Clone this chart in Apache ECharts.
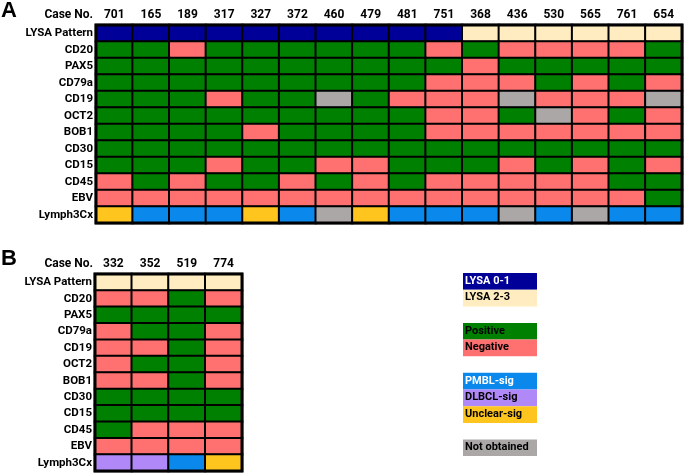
<!DOCTYPE html>
<html>
<head>
<meta charset="utf-8">
<script src="https://cdn.jsdelivr.net/npm/echarts@6/dist/echarts.min.js"></script>
<style>
  html, body { margin: 0; padding: 0; background: #fff; }
  #chart { width: 685px; height: 474px; }
</style>
</head>
<body>
<div id="chart"></div>
<script>
// codes: 0 LYSA 0-1, 1 LYSA 2-3, 2 Positive, 3 Negative, 4 PMBL-sig, 5 DLBCL-sig, 6 Unclear-sig, 7 Not obtained
const markers = ['LYSA Pattern', 'CD20', 'PAX5', 'CD79a', 'CD19', 'OCT2', 'BOB1', 'CD30', 'CD15', 'CD45', 'EBV', 'Lymph3Cx'];

const casesA = ['701', '165', '189', '317', '327', '372', '460', '479', '481', '751', '368', '436', '530', '565', '761', '654'];
const lysaA     = [0, 0, 0, 0, 0, 0, 0, 0, 0, 0, 1, 1, 1, 1, 1, 1];
const cd20A     = [2, 2, 3, 2, 2, 2, 2, 2, 2, 3, 2, 3, 3, 3, 3, 2];
const pax5A     = [2, 2, 2, 2, 2, 2, 2, 2, 2, 2, 3, 2, 2, 2, 2, 2];
const cd79aA    = [2, 2, 2, 2, 2, 2, 2, 2, 2, 3, 3, 3, 2, 3, 2, 3];
const cd19A     = [2, 2, 2, 3, 2, 2, 7, 2, 3, 3, 3, 7, 3, 3, 3, 7];
const oct2A     = [2, 2, 2, 2, 2, 2, 2, 2, 2, 3, 3, 2, 7, 3, 2, 3];
const bob1A     = [2, 2, 2, 2, 3, 2, 2, 2, 2, 3, 3, 3, 3, 3, 3, 3];
const cd30A     = [2, 2, 2, 2, 2, 2, 2, 2, 2, 2, 2, 2, 2, 2, 2, 2];
const cd15A     = [2, 2, 2, 3, 2, 2, 3, 3, 2, 2, 2, 3, 2, 3, 2, 3];
const cd45A     = [3, 2, 3, 2, 2, 3, 2, 3, 2, 3, 3, 3, 3, 3, 2, 2];
const ebvA      = [3, 3, 3, 3, 3, 3, 3, 3, 3, 3, 3, 3, 3, 3, 3, 2];
const lymph3cxA = [6, 4, 4, 4, 6, 4, 7, 6, 4, 4, 4, 7, 4, 7, 4, 4];

const casesB = ['332', '352', '519', '774'];
const lysaB     = [1, 1, 1, 1];
const cd20B     = [3, 3, 2, 3];
const pax5B     = [2, 2, 2, 2];
const cd79aB    = [3, 2, 2, 3];
const cd19B     = [3, 3, 2, 3];
const oct2B     = [3, 2, 2, 3];
const bob1B     = [3, 3, 2, 3];
const cd30B     = [2, 2, 2, 2];
const cd15B     = [2, 2, 2, 2];
const cd45B     = [2, 3, 3, 3];
const ebvB      = [3, 3, 3, 3];
const lymph3cxB = [5, 5, 4, 6];

const legendGroups = [
  [['LYSA 0-1', 0], ['LYSA 2-3', 1]],
  [['Positive', 2], ['Negative', 3]],
  [['PMBL-sig', 4], ['DLBCL-sig', 5], ['Unclear-sig', 6]],
  [['Not obtained', 7]]
];

const colors = ['#000099', '#FFEDC1', '#008000', '#FF7171', '#0A88EC', '#B188F7', '#FFC51F', '#ABA7A7'];
const textColors = ['#fff', '#000', '#000', '#000', '#fff', '#000', '#000', '#000'];

const rowsA = [lysaA, cd20A, pax5A, cd79aA, cd19A, oct2A, bob1A, cd30A, cd15A, cd45A, ebvA, lymph3cxA];
const rowsB = [lysaB, cd20B, pax5B, cd79aB, cd19B, oct2B, bob1B, cd30B, cd15B, cd45B, ebvB, lymph3cxB];

function toCells(rows) {
  const out = [];
  rows.forEach((row, r) => row.forEach((v, c) => out.push([c, r, v])));
  return out;
}

const FONT = 'Roboto, "Open Sans", sans-serif';

const chart = echarts.init(document.getElementById('chart'));

function xAx(idx, cases) {
  return {
    type: 'category', gridIndex: idx, data: cases, position: 'top',
    axisLine: { show: false }, axisTick: { show: false }, splitLine: { show: false },
    axisLabel: { color: '#000', fontWeight: 'bold', fontSize: 12, fontFamily: FONT, margin: 4 }
  };
}
function yAx(idx) {
  return {
    type: 'category', gridIndex: idx, data: markers, inverse: true,
    axisLine: { show: false }, axisTick: { show: false }, splitLine: { show: false },
    axisLabel: { color: '#000', fontWeight: 'bold', fontSize: 11.5, fontFamily: FONT, margin: 3 }
  };
}

const pieces = colors.map((c, i) => ({ value: i, color: c }));

// legend boxes
const legendGraphics = [];
let ly = 273;
legendGroups.forEach((g, gi) => {
  g.forEach(([label, code]) => {
    legendGraphics.push({
      type: 'rect', left: 463, top: ly,
      shape: { width: 74, height: 16.7 },
      style: { fill: colors[code] }
    });
    legendGraphics.push({
      type: 'text', left: 465, top: ly + 2.5,
      style: { text: label, fill: textColors[code], font: 'bold 11px ' + FONT }
    });
    ly += 16.7;
  });
  ly += [16.5, 16.5, 16.5, 0][gi];
});

chart.setOption({
  animation: false,
  backgroundColor: '#fff',
  grid: [
    { left: 96, top: 25, width: 586, height: 198, show: true, borderColor: '#000', borderWidth: 3, backgroundColor: 'transparent', z: 5 },
    { left: 95, top: 274, width: 147, height: 197, show: true, borderColor: '#000', borderWidth: 3, backgroundColor: 'transparent', z: 5 }
  ],
  xAxis: [xAx(0, casesA), xAx(1, casesB)],
  yAxis: [yAx(0), yAx(1)],
  visualMap: {
    type: 'piecewise', show: false, dimension: 2, pieces: pieces, seriesIndex: [0, 1]
  },
  series: [
    {
      type: 'heatmap', xAxisIndex: 0, yAxisIndex: 0, data: toCells(rowsA),
      itemStyle: { borderColor: '#000', borderWidth: 2 }, emphasis: { disabled: true }
    },
    {
      type: 'heatmap', xAxisIndex: 1, yAxisIndex: 1, data: toCells(rowsB),
      itemStyle: { borderColor: '#000', borderWidth: 2 }, emphasis: { disabled: true }
    }
  ],
  graphic: [
    { type: 'text', left: 1, top: 0, style: { text: 'A', fill: '#000', font: 'bold 22px "Liberation Sans", Arial, sans-serif' } },
    { type: 'text', left: 1, top: 248, style: { text: 'B', fill: '#000', font: 'bold 22px "Liberation Sans", Arial, sans-serif' } },
    { type: 'text', right: 685 - 93, top: 9, style: { text: 'Case No.', fill: '#000', font: 'bold 12px ' + FONT, align: 'right' } },
    { type: 'text', right: 685 - 93, top: 258, style: { text: 'Case No.', fill: '#000', font: 'bold 12px ' + FONT, align: 'right' } }
  ].concat(legendGraphics)
});
</script>
</body>
</html>
